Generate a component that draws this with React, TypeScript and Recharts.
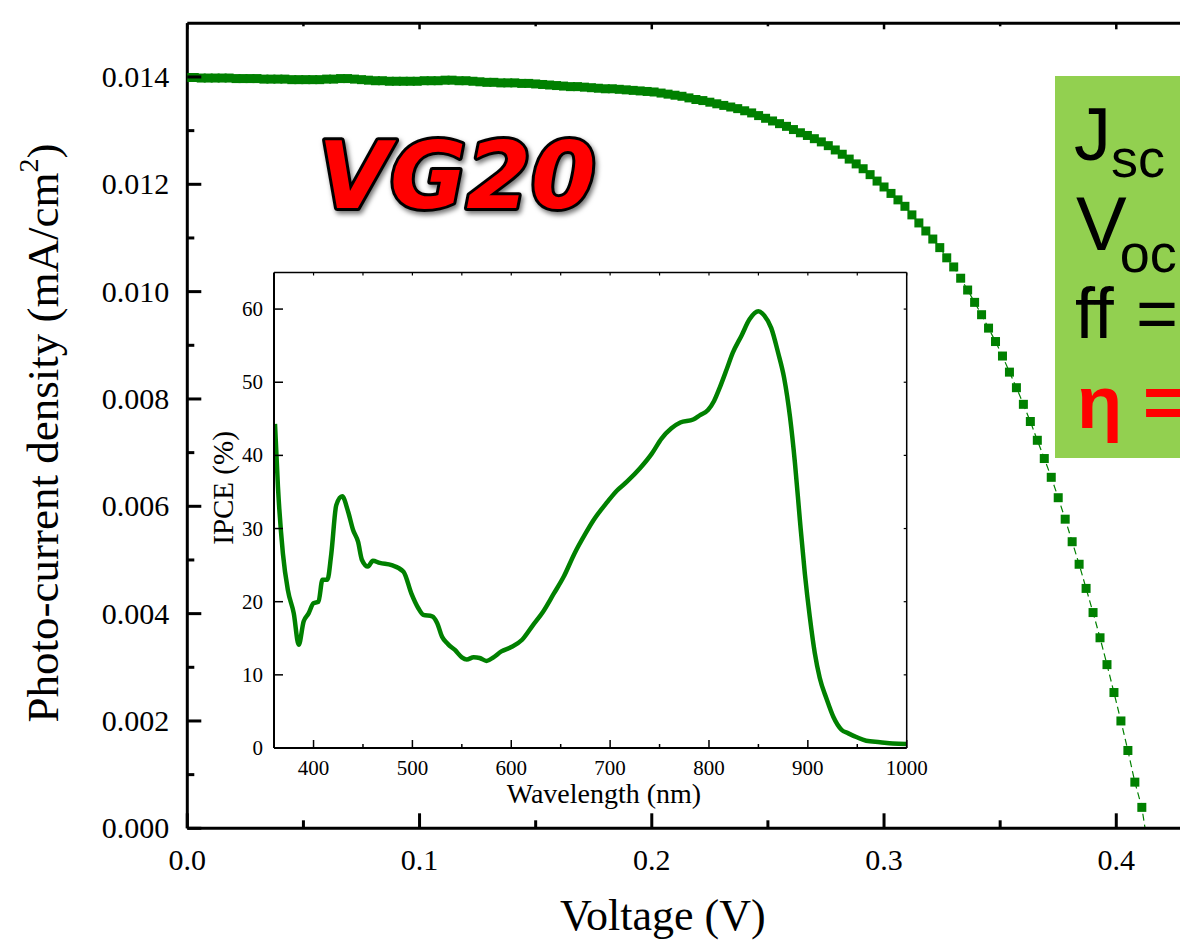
import { LineChart, Line, XAxis, YAxis } from 'recharts';

const SERIF = '"Liberation Serif", "Times New Roman", serif';
const SANS = '"Liberation Sans", Arial, sans-serif';
const GREEN = '#008000';

// J-V sweep: one point every 3 mV starting at 0 V
const VOLTAGE_STEP = 0.003;
const CURRENT_DENSITY = [
  0.01399, 0.01399, 0.01398, 0.01398, 0.01398, 0.01398, 0.01398, 0.01397, 0.01397, 0.01397,
  0.01397, 0.01396, 0.01396, 0.01396, 0.01396, 0.01395, 0.01395, 0.01395, 0.01395, 0.01395,
  0.01396, 0.01396, 0.01397, 0.01397, 0.01396, 0.01395, 0.01394, 0.01393, 0.01393, 0.01392,
  0.01392, 0.01392, 0.01392, 0.01392, 0.01393, 0.01393, 0.01393, 0.01394, 0.01394, 0.01393,
  0.01393, 0.01392, 0.01391, 0.0139, 0.0139, 0.01389, 0.01389, 0.01389, 0.01388, 0.01388,
  0.01387, 0.01386, 0.01385, 0.01384, 0.01383, 0.01382, 0.01382, 0.01381, 0.0138, 0.01379,
  0.01378, 0.01378, 0.01377, 0.01376, 0.01375, 0.01374, 0.01373, 0.01372, 0.0137, 0.01368,
  0.01366, 0.01364, 0.01361, 0.01358, 0.01356, 0.01353, 0.0135, 0.01347, 0.01344, 0.01341,
  0.01337, 0.01333, 0.01328, 0.01323, 0.01318, 0.01313, 0.01308, 0.01302, 0.01296, 0.01291,
  0.01285, 0.01279, 0.01272, 0.01264, 0.01256, 0.01247, 0.01238, 0.01229, 0.01218, 0.01206,
  0.01195, 0.01183, 0.01171, 0.01159, 0.01143, 0.01128, 0.01113, 0.01098, 0.01082, 0.01063,
  0.01046, 0.01025, 0.01003, 0.0098, 0.00957, 0.00932, 0.00907, 0.0088, 0.0085, 0.00821,
  0.0079, 0.00758, 0.00723, 0.00689, 0.00654, 0.00616, 0.00576, 0.00534, 0.00492, 0.00447,
  0.00402, 0.00355, 0.00305, 0.00253, 0.002, 0.00145, 0.00086, 0.00039, -0.00045,
];

const MAIN_X_TICKS = [0, 0.05, 0.1, 0.15, 0.2, 0.25, 0.3, 0.35, 0.4, 0.45];
const MAIN_Y_TICKS = [
  0, 0.001, 0.002, 0.003, 0.004, 0.005, 0.006, 0.007, 0.008, 0.009, 0.01, 0.011, 0.012, 0.013, 0.014,
];

// IPCE spectrum for the inset
const WAVELENGTH = [
  361, 364, 369, 374, 380, 385, 390, 395, 400, 405, 409, 414, 418, 423, 429, 435, 440, 445, 449,
  455, 460, 467, 479, 491, 499, 506, 511, 520, 525, 530, 536, 543, 550, 555, 562, 568, 575, 582,
  590, 600, 611, 622, 632, 643, 653, 664, 675, 683, 697, 707, 717, 730, 742, 752, 762, 771, 784,
  791, 799, 805, 811, 818, 824, 833, 841, 850, 856, 863, 870, 876, 882, 887, 892, 897, 902, 907,
  912, 919, 926, 934, 941, 949, 959, 973, 986, 1000,
];
const IPCE = [
  44.3, 35.7, 26.6, 21.6, 18.4, 14.1, 17.3, 18.4, 19.8, 20.0, 23.0, 23.0, 26.6, 33.2, 34.4, 32.3,
  29.8, 28.2, 25.7, 24.8, 25.6, 25.3, 25.0, 24.1, 21.1, 19.1, 18.2, 18.0, 17.1, 15.2, 14.2, 13.4,
  12.4, 12.1, 12.4, 12.3, 11.9, 12.4, 13.2, 13.8, 14.8, 16.8, 18.6, 21.1, 23.4, 26.6, 29.3, 31.1,
  33.6, 35.2, 36.4, 38.2, 40.2, 42.3, 43.7, 44.5, 44.9, 45.5, 46.2, 47.4, 49.3, 51.8, 54.0, 56.4,
  58.6, 59.7, 59.1, 57.4, 54.0, 50.6, 45.2, 38.9, 31.1, 23.8, 17.9, 13.0, 9.6, 6.7, 4.2, 2.5, 2.0,
  1.5, 1.0, 0.8, 0.6, 0.55,
];
const INSET_X_TICKS = [400, 450, 500, 550, 600, 650, 700, 750, 800, 850, 900, 950, 1000];
const INSET_Y_TICKS = [0, 10, 20, 30, 40, 50, 60];

const ivData = CURRENT_DENSITY.map((j, i) => ({ v: i * VOLTAGE_STEP, j }));
const ipceData = WAVELENGTH.map((nm, i) => ({ nm, ipce: IPCE[i] }));

const SQ = 9;
const squareDot = (props: any) => {
  const { cx, cy, index } = props;
  if (cx == null || cy == null) return <g key={`sq-${index}`} />;
  return <rect key={`sq-${index}`} x={cx - SQ / 2} y={cy - SQ / 2} width={SQ} height={SQ} fill={GREEN} />;
};

// ticks point inward, so the tick line and its label are both drawn here
const mainXTick = (props: any) => {
  const { x, y, payload } = props;
  const v = payload.value as number;
  const major = Math.round(v * 100) % 10 === 0;
  return (
    <g>
      <line x1={x} x2={x} y1={y} y2={y - (major ? 15 : 8)} stroke="#000" strokeWidth={3} />
      {major && (
        <text x={x} y={y + 42} textAnchor="middle" fontFamily={SERIF} fontSize={30} fill="#000">
          {v.toFixed(1)}
        </text>
      )}
    </g>
  );
};

const mainTopTick = (props: any) => {
  const { x, y, payload } = props;
  const major = Math.round(payload.value * 100) % 10 === 0;
  return <line x1={x} x2={x} y1={y} y2={y + (major ? 6 : 3)} stroke="#000" strokeWidth={2.5} />;
};

const mainYTick = (props: any) => {
  const { x, y, payload } = props;
  const v = payload.value as number;
  const major = Math.round(v * 1000) % 2 === 0;
  return (
    <g>
      <line x1={x} x2={x + (major ? 14 : 7)} y1={y} y2={y} stroke="#000" strokeWidth={3} />
      {major && (
        <text x={x - 18} y={y + 10} textAnchor="end" fontFamily={SERIF} fontSize={30} fill="#000">
          {v.toFixed(3)}
        </text>
      )}
    </g>
  );
};

const insetXTick = (props: any) => {
  const { x, y, payload } = props;
  const v = payload.value as number;
  const major = v % 100 === 0;
  return (
    <g>
      <line x1={x} x2={x} y1={y} y2={y - (major ? 8 : 4)} stroke="#000" strokeWidth={1.5} />
      {major && (
        <text x={x} y={y + 27} textAnchor="middle" fontFamily={SERIF} fontSize={21} fill="#000">
          {v}
        </text>
      )}
    </g>
  );
};

const insetTopTick = (props: any) => {
  const { x, y } = props;
  return <line x1={x} x2={x} y1={y} y2={y + 3} stroke="#000" strokeWidth={1.2} />;
};

const insetYTick = (props: any) => {
  const { x, y, payload } = props;
  return (
    <g>
      <line x1={x} x2={x + 9} y1={y} y2={y} stroke="#000" strokeWidth={1.5} />
      <text x={x - 11} y={y + 7} textAnchor="end" fontFamily={SERIF} fontSize={21} fill="#000">
        {payload.value}
      </text>
    </g>
  );
};

const insetRightTick = (props: any) => {
  const { x, y } = props;
  return <line x1={x} x2={x - 3} y1={y} y2={y} stroke="#000" strokeWidth={1.2} />;
};

function IVChart() {
  return (
    <LineChart width={1250} height={946} data={ivData} margin={{ top: 22.3, right: 17.6, bottom: 0, left: 0 }}>
      <XAxis
        dataKey="v"
        type="number"
        domain={[0, 0.45]}
        allowDataOverflow
        ticks={MAIN_X_TICKS}
        interval={0}
        height={117.7}
        tickLine={false}
        tickSize={0}
        tickMargin={0}
        axisLine={{ stroke: '#000', strokeWidth: 3 }}
        tick={mainXTick}
        label={{
          value: 'Voltage (V)',
          position: 'insideBottom',
          offset: 16,
          dx: -47,
          fontFamily: SERIF,
          fontSize: 44,
          fill: '#000',
        }}
      />
      <XAxis
        xAxisId="top"
        orientation="top"
        dataKey="v"
        type="number"
        domain={[0, 0.45]}
        allowDataOverflow
        ticks={MAIN_X_TICKS}
        interval={0}
        height={1}
        tickLine={false}
        tickSize={0}
        tickMargin={0}
        axisLine={{ stroke: '#000', strokeWidth: 3 }}
        tick={mainTopTick}
      />
      <YAxis
        type="number"
        domain={[0, 0.015]}
        allowDataOverflow
        ticks={MAIN_Y_TICKS}
        interval={0}
        width={187.3}
        tickLine={false}
        tickSize={0}
        tickMargin={0}
        axisLine={{ stroke: '#000', strokeWidth: 3 }}
        tick={mainYTick}
        label={{
          content: () => (
            <text transform="rotate(-90)" x={-433} y={58} textAnchor="middle" fontFamily={SERIF} fontSize={45} fill="#000">
              Photo-current density (mA/cm
              <tspan dy={-20} fontSize={28}>2</tspan>
              <tspan dy={20}>)</tspan>
            </text>
          ),
        }}
      />
      <Line
        dataKey="j"
        type="linear"
        stroke={GREEN}
        strokeWidth={1.2}
        strokeDasharray="7 4"
        dot={squareDot}
        activeDot={false}
        isAnimationActive={false}
      />
    </LineChart>
  );
}

function IpceInset() {
  return (
    <LineChart width={740} height={560} data={ipceData} margin={{ top: 9.5, right: 36.3, bottom: 0, left: 0 }}>
      <XAxis
        dataKey="nm"
        type="number"
        domain={[360, 1000]}
        allowDataOverflow
        ticks={INSET_X_TICKS}
        interval={0}
        height={74}
        tickLine={false}
        tickSize={0}
        tickMargin={0}
        axisLine={{ stroke: '#000', strokeWidth: 2 }}
        tick={insetXTick}
        label={{
          value: 'Wavelength (nm)',
          position: 'insideBottom',
          offset: 19,
          dx: 13.6,
          fontFamily: SERIF,
          fontSize: 28,
          fill: '#000',
        }}
      />
      <XAxis
        xAxisId="top"
        orientation="top"
        dataKey="nm"
        type="number"
        domain={[360, 1000]}
        allowDataOverflow
        ticks={INSET_X_TICKS}
        interval={0}
        height={1}
        tickLine={false}
        tickSize={0}
        tickMargin={0}
        axisLine={{ stroke: '#000', strokeWidth: 1.5 }}
        tick={insetTopTick}
      />
      <YAxis
        type="number"
        domain={[0, 65]}
        allowDataOverflow
        ticks={INSET_Y_TICKS}
        interval={0}
        width={70}
        tickLine={false}
        tickSize={0}
        tickMargin={0}
        axisLine={{ stroke: '#000', strokeWidth: 2 }}
        tick={insetYTick}
        label={{
          content: () => (
            <text transform="rotate(-90)" x={-226} y={28.7} textAnchor="middle" fontFamily={SERIF} fontSize={29} fill="#000">
              IPCE (%)
            </text>
          ),
        }}
      />
      <YAxis
        yAxisId="right"
        orientation="right"
        dataKey="ipce"
        type="number"
        domain={[0, 65]}
        allowDataOverflow
        ticks={INSET_Y_TICKS}
        interval={0}
        width={1}
        tickLine={false}
        tickSize={0}
        tickMargin={0}
        axisLine={{ stroke: '#000', strokeWidth: 1.5 }}
        tick={insetRightTick}
      />
      <Line
        dataKey="ipce"
        type="monotone"
        stroke={GREEN}
        strokeWidth={4.5}
        dot={false}
        activeDot={false}
        isAnimationActive={false}
      />
    </LineChart>
  );
}

function Annotations() {
  return (
    <svg width={1180} height={946} style={{ position: 'absolute', left: 0, top: 0, pointerEvents: 'none' }}>
      <defs>
        <filter id="vgShadow" x="-10%" y="-30%" width="130%" height="170%">
          <feDropShadow dx="2" dy="3" stdDeviation="2.5" floodColor="#000" floodOpacity="0.55" />
        </filter>
      </defs>
      <text
        x={318}
        y={208}
        fontFamily='"DejaVu Sans", Verdana, sans-serif'
        fontWeight="bold"
        fontStyle="italic"
        fontSize={93}
        fill="#ff0000"
        stroke="#000"
        strokeWidth={6}
        strokeLinejoin="round"
        paintOrder="stroke"
        filter="url(#vgShadow)"
      >
        VG20
      </text>

      <rect x={1055} y={76} width={200} height={382} fill="#92d050" />
      <g fontFamily={SANS} fill="#000">
        <text x={1074} y={160} fontSize={74}>
          J<tspan fontSize={54} dy={17}>sc</tspan>
        </text>
        <text x={1076} y={250} fontSize={76}>
          V<tspan fontSize={54} dy={22} dx={-7}>oc</tspan>
        </text>
        <text x={1075} y={338} fontSize={72}>
          ff<tspan x={1136}>=</tspan>
        </text>
        <text x={1077} y={428} fontSize={74} fontWeight="bold" fill="#ff0000">
          η<tspan x={1143}>=</tspan>
        </text>
      </g>
    </svg>
  );
}

export default function App() {
  return (
    <div
      style={{
        position: 'absolute',
        left: 0,
        top: 0,
        width: 1180,
        height: 946,
        overflow: 'hidden',
        background: '#fff',
      }}
    >
      <div style={{ position: 'absolute', left: 0, top: 0 }}>
        <IVChart />
      </div>
      <div style={{ position: 'absolute', left: 204, top: 262 }}>
        <IpceInset />
      </div>
      <Annotations />
    </div>
  );
}
